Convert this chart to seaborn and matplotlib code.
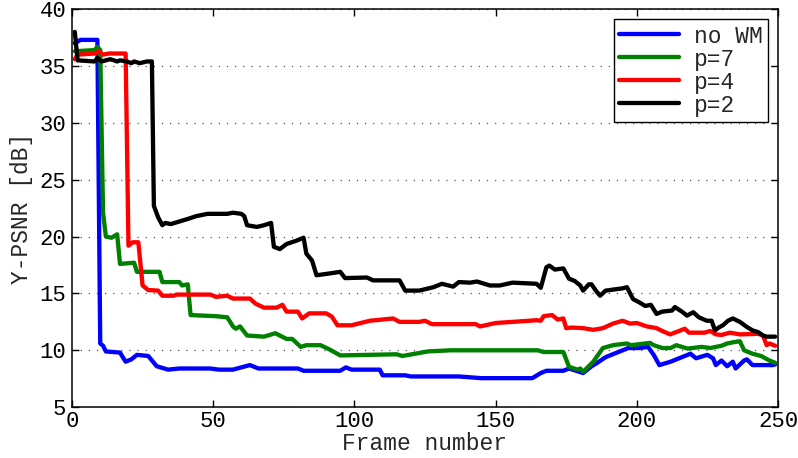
import numpy as np
import pandas as pd
import matplotlib
matplotlib.use("Agg")
import matplotlib.pyplot as plt
import seaborn as sns

# Y-PSNR per frame for the unwatermarked sequence and three watermark strengths
frames_nowm = [1, 3, 9, 10, 11, 12, 17, 19, 21, 23, 27, 30, 34, 38, 49, 52, 57, 63, 66, 74,
               80, 82, 95, 97, 99, 109, 110, 118, 120, 137, 145, 163, 166, 168, 174, 176,
               181, 184, 186, 189, 194, 197, 201, 204, 206, 208, 212, 216, 219, 221, 225,
               227, 228, 230, 232, 234, 235, 238, 239, 241, 248, 249]
psnr_nowm = [37.0, 37.3, 37.3, 10.6, 10.4, 9.9, 9.8, 9.0, 9.2, 9.6, 9.5, 8.6, 8.3, 8.4, 8.4,
             8.3, 8.3, 8.7, 8.4, 8.4, 8.4, 8.2, 8.2, 8.5, 8.3, 8.3, 7.8, 7.8, 7.7, 7.7, 7.55,
             7.55, 8.0, 8.2, 8.2, 8.4, 8.0, 8.6, 8.9, 9.4, 9.9, 10.2, 10.2, 10.3, 9.6, 8.7,
             9.0, 9.4, 9.7, 9.3, 9.6, 9.3, 8.7, 9.1, 8.6, 9.0, 8.4, 9.1, 9.2, 8.7, 8.7, 8.75]

frames_p7 = [1, 8, 9, 10, 11, 12, 14, 16, 17, 22, 23, 31, 32, 38, 39, 41, 42, 51, 55, 57,
             58, 59.5, 62, 68, 72, 76, 78, 81, 83, 88, 91, 95, 115, 117, 126, 134, 165, 167,
             174, 176, 179, 180, 181, 184.6, 188, 191.6, 196.5, 198, 204.7, 206, 209, 212,
             214, 218, 223, 226, 230, 232, 234, 236.5, 238, 241, 244, 247, 249]
psnr_p7 = [36.3, 36.4, 36.7, 36.4, 22.1, 20.0, 19.9, 20.2, 17.6, 17.7, 16.9, 16.9, 16.0,
           16.0, 15.7, 15.8, 13.1, 13.0, 12.9, 12.1, 11.9, 12.1, 11.3, 11.2, 11.5, 11.0,
           11.0, 10.3, 10.45, 10.45, 10.1, 9.55, 9.65, 9.5, 9.9, 10.0, 10.0, 9.85, 9.85,
           8.55, 8.3, 8.4, 8.1, 9.0, 10.2, 10.45, 10.6, 10.45, 10.65, 10.45, 10.2, 10.2,
           10.45, 10.15, 10.3, 10.2, 10.4, 10.6, 10.7, 10.8, 10.0, 9.7, 9.5, 9.1, 8.9]

frames_p4 = [1, 2, 8, 9.5, 11, 13, 19, 20, 21.5, 23.5, 25, 27, 30.5, 32, 36, 37, 49, 51,
             55, 57, 63, 65, 68, 72.5, 74.5, 76, 80, 81.5, 84, 90, 92, 94, 99, 105.5, 113.7,
             116, 123, 125, 127.5, 143, 144.5, 150, 162, 164.5, 166, 167, 170, 172, 174, 175,
             177, 181, 184.6, 188, 191.6, 195, 197.6, 200, 203.6, 207, 209, 211.8, 215, 217,
             218.5, 224, 226, 228, 230, 233, 236.5, 243, 244.7, 246, 247, 249]
psnr_p4 = [35.6, 36.0, 36.1, 36.3, 36.0, 36.1, 36.1, 19.2, 19.5, 19.5, 15.7, 15.3, 15.25,
           14.8, 14.8, 14.9, 14.9, 14.7, 14.8, 14.55, 14.55, 14.1, 13.75, 13.75, 14.0, 13.4,
           13.4, 12.8, 13.25, 13.25, 12.97, 12.2, 12.2, 12.6, 12.8, 12.5, 12.5, 12.6, 12.3,
           12.3, 12.1, 12.4, 12.6, 12.65, 12.6, 13.0, 13.1, 12.7, 12.8, 11.95, 12.0, 11.95,
           11.8, 11.95, 12.35, 12.6, 12.35, 12.4, 12.1, 11.95, 11.7, 11.4, 11.7, 11.9, 11.55,
           11.55, 11.7, 11.4, 11.35, 11.55, 11.4, 11.45, 11.3, 10.45, 10.6, 10.4]

frames_p2 = [1, 2, 8, 9, 10.5, 13.5, 16, 17, 19.5, 21, 22, 24, 26.5, 28.3, 29, 30.5, 32, 33,
             35, 39, 41, 44, 48, 55, 57, 60, 61, 62, 65.5, 68, 70.5, 71.5, 73.6, 76, 79.6, 82,
             83, 85, 86.6, 91, 95, 96.7, 104.5, 106.6, 116, 118, 123, 128, 131, 135, 137, 141,
             143.4, 148, 151.5, 156, 164.5, 166, 168, 169, 171, 174, 176, 178, 180, 181, 183,
             184, 185.5, 187, 189, 195, 196.5, 198.7, 201, 203, 205, 207, 209, 212.5, 213.5,
             216, 217.8, 220, 222, 224.8, 226.5, 227.7, 229, 230.5, 232.3, 234, 236.5, 239,
             241, 243, 244.7, 246, 249]
psnr_p2 = [38.0, 35.5, 35.4, 35.7, 35.4, 35.6, 35.4, 35.5, 35.4, 35.25, 35.4, 35.25, 35.4,
           35.4, 22.7, 21.7, 21.0, 21.2, 21.1, 21.4, 21.55, 21.8, 22.0, 22.0, 22.1, 22.0,
           21.8, 21.0, 20.85, 21.0, 21.2, 19.1, 18.9, 19.35, 19.65, 19.9, 18.5, 17.9, 16.6,
           16.75, 16.9, 16.35, 16.4, 16.15, 16.15, 15.25, 15.25, 15.55, 15.85, 15.6, 16.0,
           15.95, 16.05, 15.7, 15.7, 15.95, 15.85, 15.5, 17.3, 17.45, 17.1, 17.2, 16.3, 16.1,
           15.7, 15.25, 15.8, 15.8, 15.25, 14.8, 15.25, 15.45, 15.55, 14.5, 14.2, 13.9, 14.0,
           13.2, 13.4, 13.5, 13.8, 13.4, 13.05, 13.35, 12.9, 12.6, 12.6, 11.75, 12.0, 12.2,
           12.6, 12.8, 12.5, 12.05, 11.75, 11.6, 11.3, 11.2, 11.2]

series_labels = ["no WM", "p=7", "p=4", "p=2"]
series_colors = ["#0000ff", "#008000", "#ff0000", "#000000"]
x_ticks = [0, 50, 100, 150, 200, 250]
y_ticks = [5, 10, 15, 20, 25, 30, 35, 40]

frames_all = [frames_nowm, frames_p7, frames_p4, frames_p2]
psnr_all = [psnr_nowm, psnr_p7, psnr_p4, psnr_p2]
df = pd.concat(
    [pd.DataFrame({"frame": f, "psnr": v, "scheme": lab})
     for f, v, lab in zip(frames_all, psnr_all, series_labels)],
    ignore_index=True,
)

sns.set_style("ticks")
plt.rcParams["font.family"] = ["Liberation Mono", "DejaVu Sans Mono"]
plt.rcParams["axes.linewidth"] = 1.1

fig = plt.figure(figsize=(7.98, 4.58), dpi=100)
ax = fig.add_axes([0.0902, 0.111, 0.8847, 0.869])

sns.lineplot(data=df, x="frame", y="psnr", hue="scheme", hue_order=series_labels,
             palette=dict(zip(series_labels, series_colors)), estimator=None,
             sort=False, linewidth=3.1, ax=ax)

ax.set_xlim(0, 250)
ax.set_ylim(5, 40)
ax.set_xticks(x_ticks)
ax.set_yticks(y_ticks)
ax.tick_params(direction="in", top=True, right=True, length=5, width=1.0,
               labelsize=16, colors="black")
ax.tick_params(axis="x", pad=3)
ax.tick_params(axis="y", pad=4)
for s in ax.spines.values():
    s.set_color("black")
ax.yaxis.grid(True, linestyle=(0, (1, 5.5)), color="#555555", linewidth=0.9)
ax.xaxis.grid(False)
ax.set_xlabel("Frame number", fontsize=16.5, labelpad=0)
ax.set_ylabel("Y-PSNR [dB]", fontsize=16.5, labelpad=5)

leg = ax.legend(loc="upper right", fontsize=16.5, frameon=True, fancybox=False,
                edgecolor="black", framealpha=1.0, handlelength=2.6,
                handletextpad=0.65, labelspacing=0.0, borderpad=0.22,
                borderaxespad=0.45, title=None)
leg.get_frame().set_linewidth(1.0)

fig.savefig("out.png", dpi=100)
